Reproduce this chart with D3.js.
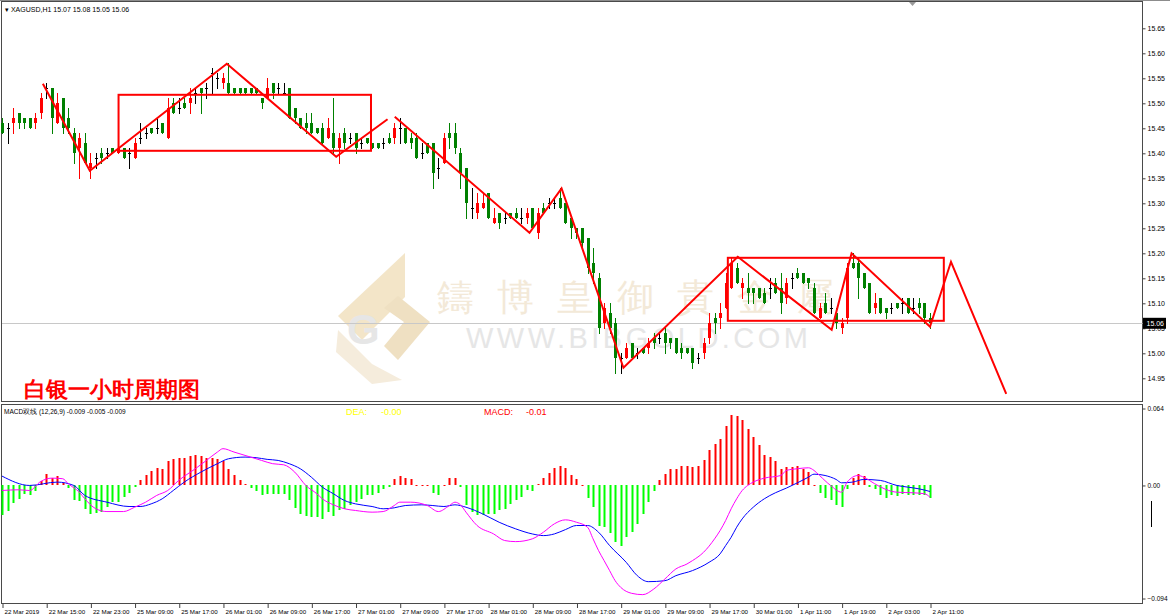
<!DOCTYPE html>
<html>
<head>
<meta charset="utf-8">
<script src="https://cdn.jsdelivr.net/npm/d3@7"></script>
<style>
  body { margin: 0; background: #fff; }
  svg { display: block; }
  text { font-family: "Liberation Sans", Arial, sans-serif; }
</style>
</head>
<body>
<svg id="chart" width="1170" height="616"></svg>
<script>
// XAGUSD H1, 22 Mar 2019 - 2 Apr 2019 (169 bars)
const opens = [
  15.46,15.45,15.46,15.48,15.47,15.47,15.46,15.48, 15.53,15.53,15.46,15.51,15.47,15.44,15.41,15.42,
  15.37,15.39,15.40,15.40,15.41,15.40,15.41,15.40, 15.39,15.43,15.44,15.45,15.45,15.46,15.43,15.50,
  15.49,15.50,15.50,15.52,15.53,15.53,15.56,15.55, 15.54,15.54,15.53,15.53,15.53,15.53,15.53,15.51,
  15.51,15.54,15.53,15.52,15.53,15.49,15.47,15.46, 15.46,15.45,15.45,15.43,15.44,15.41,15.44,15.43,
  15.44,15.42,15.43,15.42,15.42,15.42,15.43,15.43, 15.45,15.45,15.43,15.43,15.40,15.42,15.42,15.37,
  15.38,15.44,15.44,15.40,15.37,15.29,15.28,15.29, 15.32,15.26,15.28,15.27,15.28,15.28,15.27,15.27,
  15.29,15.24,15.29,15.30,15.30,15.31,15.30,15.27, 15.25,15.25,15.23,15.18,15.15,15.06,15.08,15.06,
  14.99,14.99,15.02,15.00,15.01,15.01,15.03,15.03, 15.04,15.03,15.03,15.01,15.01,15.01,14.99,15.00,
  15.03,15.07,15.07,15.09,15.13,15.17,15.13,15.13, 15.13,15.13,15.12,15.13,15.14,15.13,15.11,15.15,
  15.16,15.16,15.15,15.13,15.07,15.10,15.09,15.08, 15.05,15.07,15.18,15.18,15.16,15.14,15.09,15.11,
  15.09,15.09,15.10,15.10,15.11,15.09,15.10,15.10, 15.07
];
const highs = [
  15.47,15.46,15.49,15.48,15.47,15.47,15.48,15.52, 15.54,15.53,15.52,15.51,15.49,15.45,15.44,15.44,
  15.40,15.40,15.41,15.41,15.41,15.41,15.41,15.41, 15.43,15.46,15.45,15.45,15.47,15.46,15.51,15.51,
  15.51,15.51,15.53,15.53,15.53,15.54,15.57,15.56, 15.56,15.58,15.53,15.53,15.53,15.53,15.53,15.51,
  15.55,15.54,15.54,15.54,15.53,15.49,15.47,15.48, 15.48,15.45,15.46,15.47,15.51,15.44,15.45,15.44,
  15.44,15.43,15.43,15.42,15.42,15.43,15.44,15.46, 15.47,15.45,15.44,15.44,15.42,15.42,15.42,15.39,
  15.44,15.46,15.46,15.41,15.37,15.33,15.32,15.32, 15.32,15.29,15.28,15.28,15.28,15.29,15.29,15.29,
  15.29,15.29,15.30,15.31,15.31,15.33,15.30,15.27, 15.25,15.25,15.23,15.21,15.16,15.10,15.10,15.07,
  15.00,15.02,15.02,15.01,15.01,15.03,15.04,15.04, 15.05,15.03,15.03,15.02,15.01,15.01,15.00,15.03,
  15.08,15.08,15.10,15.16,15.19,15.18,15.15,15.16, 15.13,15.13,15.13,15.15,15.15,15.16,15.15,15.16,
  15.17,15.16,15.15,15.14,15.10,15.12,15.11,15.09, 15.07,15.18,15.20,15.19,15.16,15.14,15.12,15.11,
  15.09,15.10,15.10,15.11,15.11,15.11,15.11,15.10, 15.08
];
const lows = [
  15.44,15.42,15.44,15.45,15.45,15.45,15.45,15.47, 15.51,15.44,15.46,15.44,15.44,15.38,15.35,15.38,
  15.35,15.37,15.38,15.39,15.40,15.40,15.39,15.37, 15.39,15.42,15.43,15.44,15.44,15.44,15.43,15.48,
  15.48,15.49,15.48,15.50,15.48,15.51,15.52,15.53, 15.53,15.52,15.52,15.52,15.52,15.52,15.52,15.49,
  15.51,15.51,15.52,15.52,15.47,15.46,15.45,15.44, 15.44,15.44,15.42,15.43,15.40,15.38,15.41,15.42,
  15.40,15.41,15.42,15.41,15.41,15.41,15.42,15.42, 15.42,15.42,15.41,15.39,15.39,15.40,15.33,15.35,
  15.38,15.41,15.40,15.33,15.27,15.27,15.27,15.29, 15.27,15.26,15.25,15.26,15.27,15.27,15.26,15.26,
  15.25,15.23,15.28,15.29,15.29,15.29,15.26,15.23, 15.23,15.21,15.16,15.14,15.04,15.05,15.04,14.96,
  14.96,14.99,14.99,14.99,15.00,15.00,15.01,15.02, 15.00,15.01,15.00,14.99,15.00,14.97,14.98,14.99,
  15.02,15.04,15.05,15.09,15.13,15.14,15.11,15.10, 15.10,15.11,15.10,15.11,15.12,15.08,15.10,15.13,
  15.15,15.14,15.13,15.08,15.07,15.08,15.08,15.05, 15.04,15.06,15.17,15.11,15.13,15.08,15.08,15.08,
  15.07,15.08,15.09,15.08,15.08,15.08,15.08,15.06, 15.05
];
const closes = [
  15.44,15.45,15.47,15.46,15.46,15.45,15.47,15.51, 15.53,15.47,15.50,15.45,15.45,15.40,15.43,15.38,
  15.38,15.39,15.39,15.40,15.40,15.41,15.39,15.40, 15.42,15.43,15.44,15.44,15.45,15.44,15.49,15.48,
  15.49,15.49,15.51,15.52,15.52,15.53,15.56,15.55, 15.55,15.52,15.52,15.52,15.52,15.52,15.52,15.50,
  15.53,15.52,15.53,15.52,15.47,15.47,15.45,15.45, 15.44,15.44,15.42,15.45,15.41,15.43,15.42,15.43,
  15.41,15.42,15.42,15.41,15.41,15.42,15.42,15.45, 15.45,15.42,15.42,15.39,15.40,15.40,15.36,15.37,
  15.43,15.43,15.41,15.36,15.30,15.29,15.30,15.30, 15.27,15.27,15.26,15.27,15.27,15.27,15.27,15.28,
  15.25,15.28,15.28,15.30,15.30,15.29,15.26,15.25, 15.24,15.22,15.17,15.16,15.05,15.09,15.05,14.99,
  14.99,15.01,14.99,15.00,15.00,15.02,15.02,15.03, 15.02,15.02,15.00,15.00,15.00,14.98,14.99,15.02,
  15.06,15.06,15.08,15.14,15.18,15.14,15.14,15.12, 15.12,15.11,15.10,15.13,15.12,15.10,15.14,15.15,
  15.15,15.14,15.14,15.08,15.09,15.08,15.09,15.06, 15.06,15.17,15.17,15.15,15.13,15.08,15.10,15.08,
  15.08,15.09,15.09,15.10,15.08,15.09,15.09,15.07, 15.06
];

// MACD histogram, one value per bar
const macdHist = [
  -0.0244,-0.021,-0.0147,-0.011,-0.0069,-0.0083,-0.005,0.0033, 0.0092,0.0061,0.0075,0.0022,-0.0022,-0.012,-0.013,-0.0194,
  -0.0236,-0.023,-0.0217,-0.0175,-0.0139,-0.0139,-0.0097,-0.0064, -0.0011,0.0042,0.0083,0.0117,0.0144,0.0139,0.02,0.0222,
  0.0231,0.0231,0.0242,0.025,0.0242,0.0231,0.0228,0.0222, 0.0203,0.0139,0.0089,0.0047,0.0014,-0.0017,-0.0042,-0.0083,
  -0.0069,-0.0069,-0.0069,-0.0069,-0.0125,-0.0189,-0.0236,-0.0256, -0.0264,-0.0264,-0.0278,-0.0222,-0.025,-0.0208,-0.0194,-0.0161,
  -0.0139,-0.0111,-0.0083,-0.0078,-0.0061,-0.0028,-0.0014,0.005, 0.0075,0.0061,0.005,0.0008,0.0008,0.0008,-0.0061,-0.0083,
  0.0008,0.0061,0.0061,-0.001,-0.016,-0.0217,-0.0244,-0.0244, -0.0236,-0.0236,-0.02,-0.0194,-0.0158,-0.0119,-0.0097,-0.0036,
  -0.0042,0.0014,0.0061,0.0103,0.0144,0.0158,0.0144,0.0083, 0.005,0.0008,-0.0103,-0.0181,-0.0339,-0.0347,-0.0397,-0.0472,
  -0.05,-0.0431,-0.0389,-0.0319,-0.0236,-0.0139,-0.005,0.0042, 0.0092,0.0139,0.0139,0.0158,0.0158,0.0153,0.0158,0.0208,
  0.0292,0.0342,0.0389,0.0492,0.0589,0.0575,0.0547,0.0472, 0.0403,0.0333,0.025,0.0236,0.02,0.0139,0.0153,0.0153,
  0.0158,0.0139,0.0111,0.0006,-0.0061,-0.0106,-0.0117,-0.0161, -0.0175,-0.0028,0.0061,0.0092,0.0075,-0.0011,-0.0028,-0.0083,
  -0.0106,-0.0083,-0.0089,-0.0069,-0.0083,-0.0078,-0.0078,-0.0078, -0.0106
];

// DIF (magenta) and DEA (blue) lines, read as [bar, value]
const difLine = [
  [0,-0.0042],[3,-0.0036],[5,-0.0042],[7,0.0033],[9,0.0061],[11,0.0056],[12,0.0014],[14,-0.0056],
  [15,-0.0111],[17,-0.0194],[19,-0.0217],[22,-0.0217],[24,-0.0181],[26,-0.0139],[28,-0.0083],[30,-0.0042],
  [32,0.0042],[35,0.0139],[37,0.0208],[39,0.0278],[40,0.0306],[42,0.0278],[44,0.025],[47,0.0208],
  [49,0.0181],[51,0.0172],[53,0.0111],[55,0],[57,-0.0069],[58,-0.0111],[60,-0.0161],[62,-0.0194],
  [64,-0.0208],[67,-0.0222],[69,-0.0217],[71,-0.0167],[72,-0.0139],[74,-0.0139],[77,-0.0167],[79,-0.0217],
  [81,-0.0167],[82,-0.0139],[83,-0.0161],[84,-0.0222],[86,-0.0333],[89,-0.0403],[91,-0.0458],[93,-0.0467],
  [96,-0.0444],[98,-0.0389],[100,-0.0319],[102,-0.0286],[104,-0.0306],[106,-0.0347],[107,-0.0444],[108,-0.0542],
  [109,-0.0625],[110,-0.0708],[111,-0.0792],[112,-0.0847],[114,-0.0897],[116,-0.0908],[118,-0.0861],[120,-0.0778],
  [122,-0.0694],[124,-0.0653],[125,-0.0625],[127,-0.0556],[129,-0.0444],[130,-0.0375],[131,-0.0292],[132,-0.0194],
  [133,-0.0111],[134,-0.0042],[135,0],[136,0.0028],[138,0.0061],[141,0.0083],[142,0.0125],[144,0.0139],
  [146,0.0147],[147,0.0125],[148,0.0083],[150,0],[152,-0.0056],[153,0.0028],[155,0.0083],[156,0.0069],
  [158,0.0014],[160,-0.0033],[162,-0.0056],[165,-0.0061],[167,-0.0069],[168,-0.0097]
];
const deaLine = [
  [0,0.0078],[5,0],[10,0.0028],[13,0],[15,-0.0083],[19,-0.0139],[23,-0.0175],[25,-0.0175],
  [27,-0.0153],[29,-0.0111],[31,-0.0042],[33,0.0028],[36,0.0111],[39,0.0181],[41,0.0222],[44,0.0236],
  [46,0.0231],[48,0.0217],[50,0.0208],[52,0.0181],[54,0.0139],[56,0.0069],[58,-0.0014],[60,-0.0069],
  [62,-0.0125],[64,-0.0153],[67,-0.0175],[69,-0.0194],[71,-0.0186],[73,-0.0167],[76,-0.0161],[78,-0.0167],
  [80,-0.0175],[82,-0.0161],[84,-0.0181],[87,-0.0236],[90,-0.0306],[93,-0.0361],[96,-0.0403],[98,-0.0417],
  [100,-0.0403],[102,-0.0367],[104,-0.0333],[106,-0.0333],[108,-0.0389],[110,-0.05],[113,-0.0639],[115,-0.075],
  [117,-0.08],[120,-0.0792],[122,-0.075],[125,-0.0708],[128,-0.0639],[130,-0.0569],[131,-0.05],[132,-0.0431],
  [133,-0.0347],[134,-0.0278],[136,-0.0181],[138,-0.0111],[140,-0.0061],[142,-0.0022],[144,0.0022],[146,0.0069],
  [147,0.0094],[149,0.0083],[151,0.005],[152,0.0022],[154,0.0028],[156,0.005],[159,0.0042],[162,0],
  [164,-0.0014],[166,-0.0028],[168,-0.005]
];

const timeLabels = [
  "22 Mar 2019","22 Mar 15:00","22 Mar 23:00","25 Mar 09:00","25 Mar 17:00","26 Mar 01:00",
  "26 Mar 09:00","26 Mar 17:00","27 Mar 01:00","27 Mar 09:00","27 Mar 17:00","28 Mar 01:00",
  "28 Mar 09:00","28 Mar 17:00","29 Mar 01:00","29 Mar 09:00","29 Mar 17:00","30 Mar 01:00",
  "1 Apr 11:00","1 Apr 19:00","2 Apr 03:00","2 Apr 11:00"
];
const priceTicks = [15.65,15.60,15.55,15.50,15.45,15.40,15.35,15.30,15.25,15.20,15.15,15.10,15.05,15.00,14.95];
const macdTicks = [0.064, 0, -0.094];
const lastPrice = 15.06;

// hand-drawn red analysis marks, [bar, price]
const trendLineA = [[7.4,15.539],[15.9,15.365],[40.7,15.579],[60.5,15.393],[69.8,15.468]];
const trendLineB = [[71.1,15.473],[95.5,15.241],[101.3,15.33],[112.5,14.971],[133.2,15.193],
                    [150.2,15.047],[153.8,15.2],[168,15.053],[171.8,15.183],[181.8,14.919]];
const rangeBoxes = [
  {from: 21.1, to: 66.8, top: 15.517, bottom: 15.405},
  {from: 131.4, to: 170.5, top: 15.191, bottom: 15.065}
];

const svg = d3.select("#chart");
const W = 1170, plotRight = 1142.5;

const x = d3.scaleLinear().domain([0, 168]).range([2, 930]);
const y = d3.scaleLinear().domain([14.95, 15.65]).range([378.3, 28.3]);
const ym = d3.scaleLinear().domain([-0.094, 0.064]).range([598.5, 408.5]);

const bullColor = "#ff0000", bearColor = "#008000", dojiColor = "#000000";

// window frame
svg.append("line").attr("x1", 0).attr("x2", W).attr("y1", 0.5).attr("y2", 0.5).attr("stroke", "#8c8c8c");
svg.append("rect").attr("x", 1.5).attr("y", 1.5).attr("width", plotRight - 1.5).attr("height", 400)
  .attr("fill", "#fff").attr("stroke", "#4a4a4a");
svg.append("rect").attr("x", 1.5).attr("y", 404.5).attr("width", plotRight - 1.5).attr("height", 199)
  .attr("fill", "#fff").attr("stroke", "#4a4a4a");

// watermark (logo + company name)
const wm = svg.append("g");
wm.append("polygon").attr("points", "405,253 405,297 362,340 338,316").attr("fill", "#f3e5c8");
wm.append("polygon").attr("points", "338,330 372,364 402,380 372,384 336,352").attr("fill", "#f5ecdc");
wm.append("polygon").attr("points", "398,296 430,322 398,360 384,346 404,322 384,308").attr("fill", "#efe0c2");
wm.append("text").attr("x", 347).attr("y", 344).attr("font-size", 42).attr("font-weight", "bold")
  .attr("fill", "#e6e6e6").text("G");
const wmChars = ["鑄","博","皇","御","貴","金","屬"];
wm.selectAll(".wmc").data(wmChars).join("text")
  .attr("x", (d, i) => 437 + i * 60).attr("y", 310)
  .attr("font-family", "Noto Sans CJK TC").attr("font-size", 37)
  .attr("fill", "#f3e9d8").text(d => d);
wm.append("text").attr("x", 466).attr("y", 348).attr("font-size", 29)
  .attr("textLength", 342).attr("lengthAdjust", "spacing")
  .attr("font-family", "Lato, 'DejaVu Sans'").attr("font-weight", 300)
  .attr("fill", "#e6e6e6").text("WWW.BIBGOLD.COM");

// current price line
svg.append("line").attr("x1", 2).attr("x2", plotRight).attr("y1", Math.round(y(lastPrice)) + 0.5)
  .attr("y2", Math.round(y(lastPrice)) + 0.5).attr("stroke", "#c8c8c8");

// candles
const bars = d3.range(opens.length).map(i => ({i, o: opens[i], h: highs[i], l: lows[i], c: closes[i]}));
const candleColor = d => d.c > d.o ? bullColor : d.c < d.o ? bearColor : dojiColor;
const cx = d => Math.round(x(d.i));
const candles = svg.append("g").selectAll("g").data(bars).join("g");
candles.append("line")
  .attr("x1", d => cx(d) + 0.5).attr("x2", d => cx(d) + 0.5)
  .attr("y1", d => Math.round(y(d.h))).attr("y2", d => Math.round(y(d.l)) + 1)
  .attr("stroke", candleColor);
candles.append("rect")
  .attr("x", d => cx(d) - 1).attr("width", 3)
  .attr("y", d => Math.round(y(Math.max(d.o, d.c))))
  .attr("height", d => Math.max(1, Math.round(y(Math.min(d.o, d.c))) - Math.round(y(Math.max(d.o, d.c)))))
  .attr("fill", candleColor);

// red analysis marks
const priceLine = d3.line().x(d => x(d[0])).y(d => y(d[1]));
[trendLineA, trendLineB].forEach(pts => {
  svg.append("path").attr("d", priceLine(pts)).attr("fill", "none")
    .attr("stroke", "#ff0000").attr("stroke-width", 2);
});
svg.selectAll(".box").data(rangeBoxes).join("rect")
  .attr("x", d => x(d.from)).attr("y", d => y(d.top))
  .attr("width", d => x(d.to) - x(d.from)).attr("height", d => y(d.bottom) - y(d.top))
  .attr("fill", "none").attr("stroke", "#ff0000").attr("stroke-width", 2);

// price axis
const priceAxis = svg.append("g").attr("transform", `translate(${plotRight},0)`)
  .call(d3.axisRight(y).tickValues(priceTicks).tickFormat(d3.format(".2f")).tickSize(3).tickPadding(2));
priceAxis.select(".domain").remove();
priceAxis.selectAll("line").attr("stroke", "#404040");
priceAxis.selectAll("text").attr("font-size", 7).attr("fill", "#000").attr("font-family", null);

svg.append("rect").attr("x", plotRight + 0.5).attr("y", y(lastPrice) - 5.5).attr("width", 23).attr("height", 11).attr("fill", "#000");
svg.append("text").attr("x", plotRight + 4).attr("y", y(lastPrice) + 2.5).attr("font-size", 7)
  .attr("fill", "#fff").text(lastPrice.toFixed(2));

// header texts
svg.append("text").attr("x", 5).attr("y", 12).attr("font-size", 7).attr("fill", "#000")
  .text("▾ XAGUSD,H1  15.07 15.08 15.05 15.06");
svg.append("path").attr("d", "M909,2 L916,2 L912.5,6 Z").attr("fill", "#9a9a9a");
svg.append("text").attr("x", 24).attr("y", 397).attr("font-size", 22).attr("font-weight", "bold")
  .attr("font-family", "Noto Sans CJK SC").attr("fill", "#ff0000").text("白银一小时周期图");

// MACD histogram
svg.append("g").selectAll("rect").data(macdHist).join("rect")
  .attr("x", (d, i) => Math.round(x(i)) - 0.5).attr("width", 2)
  .attr("y", d => Math.round(ym(Math.max(0, d))))
  .attr("height", d => Math.max(1, Math.abs(Math.round(ym(d)) - Math.round(ym(0)))))
  .attr("fill", d => d >= 0 ? "#ff0000" : "#00ff00");

const macdLine = d3.line().x(d => x(d[0])).y(d => ym(d[1])).curve(d3.curveMonotoneX);
svg.append("path").attr("d", macdLine(deaLine)).attr("fill", "none").attr("stroke", "#0000ff").attr("stroke-width", 1);
svg.append("path").attr("d", macdLine(difLine)).attr("fill", "none").attr("stroke", "#ff00ff").attr("stroke-width", 1);

svg.append("text").attr("x", 4).attr("y", 413.5).attr("font-size", 6.5).attr("fill", "#000")
  .text("MACD双线 (12,26,9) -0.009 -0.005 -0.009");
svg.append("text").attr("x", 346).attr("y", 415).attr("font-size", 9).attr("fill", "#ffff00").text("DEA:");
svg.append("text").attr("x", 381).attr("y", 415).attr("font-size", 9).attr("fill", "#ffff00").text("-0.00");
svg.append("text").attr("x", 484).attr("y", 415).attr("font-size", 9).attr("fill", "#ff0000").text("MACD:");
svg.append("text").attr("x", 526).attr("y", 415).attr("font-size", 9).attr("fill", "#ff0000").text("-0.01");

const macdAxis = svg.append("g").attr("transform", `translate(${plotRight},0)`)
  .call(d3.axisRight(ym).tickValues(macdTicks).tickFormat(d => d === 0 ? "0.00" : d3.format(".3f")(d)).tickSize(3).tickPadding(2));
macdAxis.select(".domain").remove();
macdAxis.selectAll("line").attr("stroke", "#404040");
macdAxis.selectAll("text").attr("font-size", 6.5).attr("fill", "#000").attr("font-family", null);
svg.append("line").attr("x1", 1151.5).attr("x2", 1151.5).attr("y1", 501).attr("y2", 527).attr("stroke", "#000");

// time axis
const timeTicks = timeLabels.map((d, k) => k * 8);
const timeAxis = svg.append("g").attr("transform", "translate(0,604)")
  .call(d3.axisBottom(x).tickValues(timeTicks).tickFormat((d, k) => timeLabels[k]).tickSize(4).tickPadding(2));
timeAxis.select(".domain").remove();
timeAxis.selectAll("line").attr("stroke", "#404040").attr("transform", "translate(0.5,0)");
timeAxis.selectAll("text").attr("font-size", 6.2).attr("fill", "#000").attr("font-family", null)
  .attr("text-anchor", "start").attr("dx", 2);
</script>
</body>
</html>
